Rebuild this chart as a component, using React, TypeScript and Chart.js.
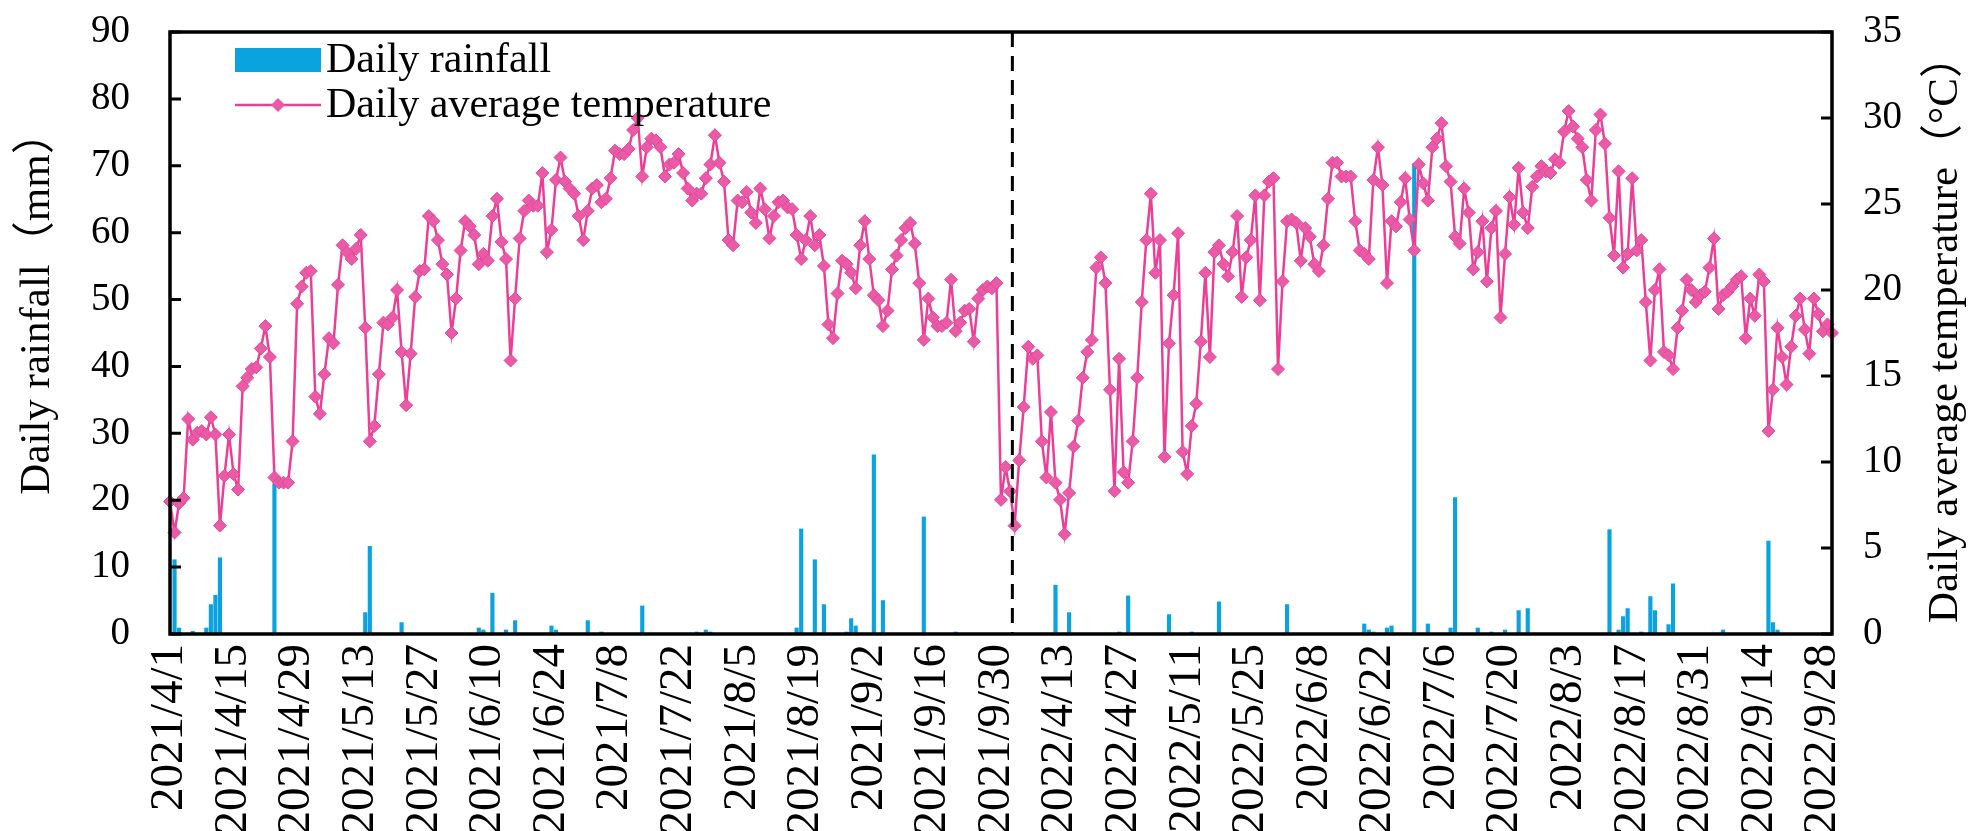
import { useEffect, useRef } from 'react';
import Chart from 'chart.js/auto';

const FONT = "'Liberation Serif', 'Times New Roman', 'Noto Sans CJK SC', serif";

// 2021 season 4/1-9/30, 2022 season 3/31-9/30
const season2021: [string, string] = ['2021-04-01', '2021-09-30'];
const season2022: [string, string] = ['2022-03-31', '2022-09-30'];

const tickLabels = [
  '2021/4/1', '2021/4/15', '2021/4/29', '2021/5/13', '2021/5/27', '2021/6/10', '2021/6/24',
  '2021/7/8', '2021/7/22', '2021/8/5', '2021/8/19', '2021/9/2', '2021/9/16', '2021/9/30',
  '2022/4/13', '2022/4/27', '2022/5/11', '2022/5/25', '2022/6/8', '2022/6/22', '2022/7/6',
  '2022/7/20', '2022/8/3', '2022/8/17', '2022/8/31', '2022/9/14', '2022/9/28',
];

// daily average temperature, °C
const temp2021 = [
  7.7, 5.9, 7.6, 7.9, 12.5, 11.3, 11.7, 11.8, 11.6, 12.6,
  11.6, 6.3, 9.2, 11.6, 9.3, 8.4, 14.4, 14.9, 15.4, 15.5,
  16.6, 17.9, 16.1, 9.1, 8.8, 8.8, 8.8, 11.2, 19.2, 20.2,
  21.0, 21.1, 13.8, 12.8, 15.1, 17.2, 16.9, 20.3, 22.6, 22.2,
  21.8, 22.4, 23.2, 17.8, 11.2, 12.1, 15.1, 18.1, 18.0, 18.4,
  20.0, 16.4, 13.3, 16.3, 19.6, 21.1, 21.2, 24.3, 24.0, 22.9,
  21.5, 20.9, 17.5, 19.5, 22.3, 24.0, 23.7, 23.2, 21.5, 22.1,
  21.7, 24.3, 25.3, 22.8, 21.8, 15.9, 19.5, 23.0, 24.6, 25.2,
  24.9, 24.9, 26.8, 22.2, 23.5, 26.4, 27.7, 26.3, 25.9, 25.6,
  24.3, 22.9, 24.6, 25.9, 26.1, 25.1, 25.3, 26.5, 28.1, 27.9,
  27.9, 28.2, 29.3, 30.0, 26.6, 28.3, 28.8, 28.7, 28.3, 26.6,
  27.3, 27.4, 27.9, 26.8, 25.9, 25.2, 25.6, 25.6, 26.5, 27.3,
  29.0, 27.4, 26.3, 22.9, 22.6, 25.2, 25.1, 25.7, 24.5, 23.9,
  25.9, 24.7, 23.0, 24.3, 25.1, 25.2, 24.8, 24.7, 23.2, 21.8,
  22.9, 24.3, 22.6, 23.2, 21.4, 18.0, 17.2, 19.8, 21.7, 21.5,
  21.0, 20.1, 22.6, 24.0, 21.8, 19.7, 19.4, 17.9, 18.8, 21.2,
  22.0, 22.9, 23.6, 23.9, 22.7, 20.4, 17.1, 19.5, 18.4, 17.9,
  17.9, 18.1, 20.6, 17.6, 18.1, 18.8, 18.9, 17.0, 19.5, 20.0,
  20.2, 20.1, 20.4,
];

const temp2022 = [
  7.8, 9.7, 8.3, 6.3, 10.1, 13.2, 16.7, 16.0, 16.2, 11.2,
  9.1, 12.9, 8.8, 7.8, 5.8, 8.2, 10.9, 12.4, 14.9, 16.4,
  17.1, 21.3, 21.9, 20.4, 14.2, 8.3, 16.0, 9.4, 8.8, 11.2,
  14.9, 19.3, 22.9, 25.6, 21.0, 22.9, 10.3, 16.9, 19.7, 23.3,
  10.6, 9.3, 12.1, 13.4, 17.0, 21.0, 16.1, 22.2, 22.6, 21.5,
  20.8, 22.2, 24.3, 19.6, 21.9, 22.9, 25.5, 19.4, 25.5, 26.3,
  26.5, 15.4, 20.5, 24.0, 24.1, 23.9, 21.7, 23.6, 23.1, 21.5,
  21.1, 22.6, 25.3, 27.4, 27.4, 26.6, 26.6, 26.6, 24.0, 22.3,
  22.1, 21.8, 26.4, 28.3, 26.1, 20.4, 24.0, 23.7, 25.1, 26.5,
  24.1, 22.3, 27.3, 26.2, 25.2, 28.3, 28.8, 29.7, 27.2, 26.3,
  23.1, 22.7, 25.9, 24.5, 21.2, 22.2, 24.0, 20.5, 23.6, 24.6,
  18.4, 22.1, 25.4, 23.8, 27.1, 24.5, 23.6, 26.0, 26.6, 27.2,
  26.9, 26.8, 27.6, 27.4, 29.2, 30.4, 29.5, 28.8, 28.3, 26.4,
  25.2, 29.3, 30.2, 28.5, 24.2, 22.0, 26.9, 21.3, 22.1, 26.5,
  22.3, 22.9, 19.3, 15.9, 20.0, 21.2, 16.4, 16.2, 15.4, 17.8,
  18.8, 20.6, 20.0, 19.3, 19.7, 19.9, 21.3, 23.0, 18.9, 19.7,
  19.9, 20.2, 20.6, 20.8, 17.2, 19.5, 18.5, 20.9, 20.5, 11.8,
  14.2, 17.8, 16.1, 14.5, 16.7, 18.5, 19.5, 17.7, 16.3, 19.5,
  18.6, 17.6, 18.0, 17.5,
];

// rainy days only, mm; every other day is 0
const rain2021: [string, number][] = [
  ['2021/4/2', 11.1], ['2021/4/3', 0.9], ['2021/4/6', 0.4], ['2021/4/9', 0.9],
  ['2021/4/10', 4.4], ['2021/4/11', 5.8], ['2021/4/12', 11.4], ['2021/4/24', 22.4],
  ['2021/5/14', 3.2], ['2021/5/15', 13.1], ['2021/5/22', 1.7], ['2021/6/8', 0.9],
  ['2021/6/9', 0.6], ['2021/6/11', 6.1], ['2021/6/14', 0.6], ['2021/6/16', 2.0],
  ['2021/6/24', 1.2], ['2021/6/25', 0.6], ['2021/7/2', 2.0], ['2021/7/5', 0.3],
  ['2021/7/14', 4.2], ['2021/7/26', 0.3], ['2021/7/28', 0.6], ['2021/7/29', 0.3],
  ['2021/8/17', 0.9], ['2021/8/18', 15.7], ['2021/8/21', 11.1], ['2021/8/23', 4.4],
  ['2021/8/28', 0.3], ['2021/8/29', 2.3], ['2021/8/30', 1.2], ['2021/9/3', 26.8],
  ['2021/9/5', 5.0], ['2021/9/14', 17.5], ['2021/9/21', 0.3],
];

const rain2022: [string, number][] = [
  ['2022/4/12', 7.3], ['2022/4/15', 3.2], ['2022/4/26', 0.3], ['2022/4/28', 5.7],
  ['2022/5/7', 2.9], ['2022/5/12', 0.3], ['2022/5/18', 4.8], ['2022/6/2', 4.4],
  ['2022/6/19', 1.5], ['2022/6/20', 0.6], ['2022/6/21', 0.3], ['2022/6/24', 0.9],
  ['2022/6/25', 1.2], ['2022/6/30', 70.3], ['2022/7/3', 1.5], ['2022/7/8', 0.9],
  ['2022/7/9', 20.4], ['2022/7/14', 0.9], ['2022/7/17', 0.3], ['2022/7/20', 0.6],
  ['2022/7/23', 3.5], ['2022/7/25', 3.8], ['2022/8/12', 15.6], ['2022/8/14', 0.6],
  ['2022/8/15', 2.6], ['2022/8/16', 3.8], ['2022/8/19', 0.3], ['2022/8/21', 5.6],
  ['2022/8/22', 3.5], ['2022/8/25', 1.4], ['2022/8/26', 7.5], ['2022/9/6', 0.6],
  ['2022/9/16', 13.9], ['2022/9/17', 1.7], ['2022/9/18', 0.6],
];

const dividerAfter = '2022/4/2';

function dayRange([from, to]: [string, string]) {
  const out: string[] = [];
  const d = new Date(from + 'T00:00:00Z');
  const end = new Date(to + 'T00:00:00Z');
  while (d <= end) {
    out.push(`${d.getUTCFullYear()}/${d.getUTCMonth() + 1}/${d.getUTCDate()}`);
    d.setUTCDate(d.getUTCDate() + 1);
  }
  return out;
}

const days = [...dayRange(season2021), ...dayRange(season2022)];
const temperature = [...temp2021, ...temp2022];
const rainMap = new Map([...rain2021, ...rain2022]);
const rainfall = days.map(d => rainMap.get(d) ?? 0);
const tickSet = new Set(tickLabels);

const BLUE = '#0ba3df';
const PINK = '#ee3d95';
const PINK_FILL = '#ea5aa6';

const decorations = {
  id: 'decorations',
  afterDatasetsDraw(chart: any) {
    const { ctx, chartArea: a, scales } = chart;
    ctx.save();

    // dashed line between the two seasons
    const k = days.indexOf(dividerAfter);
    const dx = (scales.x.getPixelForValue(k) + scales.x.getPixelForValue(k + 1)) / 2;
    ctx.strokeStyle = '#000';
    ctx.lineWidth = 3;
    ctx.setLineDash([15, 9]);
    ctx.beginPath();
    ctx.moveTo(dx, a.top);
    ctx.lineTo(dx, a.bottom);
    ctx.stroke();
    ctx.setLineDash([]);

    // frame
    ctx.lineWidth = 3.5;
    ctx.strokeRect(a.left, a.top, a.right - a.left, a.bottom - a.top);

    // inward tick marks
    ctx.lineWidth = 3;
    ctx.beginPath();
    for (const t of scales.y.ticks) {
      const py = scales.y.getPixelForValue(t.value);
      ctx.moveTo(a.left, py);
      ctx.lineTo(a.left + 11, py);
    }
    for (const t of scales.y1.ticks) {
      const py = scales.y1.getPixelForValue(t.value);
      ctx.moveTo(a.right, py);
      ctx.lineTo(a.right - 11, py);
    }
    ctx.stroke();

    // legend
    ctx.fillStyle = BLUE;
    ctx.fillRect(235, 48, 86, 24);
    ctx.strokeStyle = PINK;
    ctx.lineWidth = 2.5;
    ctx.beginPath();
    ctx.moveTo(235, 105);
    ctx.lineTo(321, 105);
    ctx.stroke();
    ctx.fillStyle = PINK_FILL;
    ctx.beginPath();
    ctx.moveTo(278, 98);
    ctx.lineTo(285, 105);
    ctx.lineTo(278, 112);
    ctx.lineTo(271, 105);
    ctx.closePath();
    ctx.fill();
    ctx.fillStyle = '#000';
    ctx.font = `42px ${FONT}`;
    ctx.textAlign = 'left';
    ctx.textBaseline = 'middle';
    ctx.fillText('Daily rainfall', 326, 61);
    ctx.fillText('Daily average temperature', 326, 106);

    // axis titles, both reading bottom to top
    ctx.textAlign = 'center';
    ctx.font = `43px ${FONT}`;
    ctx.save();
    ctx.translate(38, 303);
    ctx.rotate(-Math.PI / 2);
    ctx.fillText('Daily rainfall（mm）', 0, 0);
    ctx.restore();
    ctx.translate(1946, (a.top + a.bottom) / 2 - 4);
    ctx.rotate(-Math.PI / 2);
    ctx.fillText('Daily average temperature（°C）', 0, 0);
    ctx.restore();
  },
};

export default function App() {
  const canvasRef = useRef<HTMLCanvasElement>(null);
  const chartRef = useRef<Chart | null>(null);

  useEffect(() => {
    if (!canvasRef.current) return;
    if (chartRef.current) chartRef.current.destroy();

    const tickFont = { family: FONT, size: 39 };

    chartRef.current = new Chart(canvasRef.current, {
      type: 'bar',
      data: {
        labels: days,
        datasets: [
          {
            type: 'line',
            label: 'Daily average temperature',
            data: temperature,
            yAxisID: 'y1',
            borderColor: PINK,
            borderWidth: 2.5,
            pointStyle: 'rectRot',
            pointRadius: 6.5,
            pointBackgroundColor: PINK_FILL,
            pointBorderColor: '#e0489a',
            pointBorderWidth: 1,
            tension: 0,
            order: 0,
          } as any,
          {
            type: 'bar',
            label: 'Daily rainfall',
            data: rainfall,
            yAxisID: 'y',
            backgroundColor: BLUE,
            barThickness: 3.5,
            order: 1,
          },
        ],
      },
      options: {
        animation: false,
        responsive: false,
        devicePixelRatio: 1,
        layout: { padding: { top: 32, left: 0, right: 0, bottom: 0 } },
        plugins: { legend: { display: false }, tooltip: { enabled: false } },
        scales: {
          x: {
            type: 'category',
            offset: false,
            grid: { display: false, drawTicks: false },
            border: { display: false },
            ticks: {
              autoSkip: false,
              minRotation: 90,
              maxRotation: 90,
              padding: 10,
              color: '#000',
              font: { family: FONT, size: 47 },
              callback: (_v: any, i: number) => (tickSet.has(days[i]) ? days[i] : ''),
            },
            afterFit: (s: any) => {
              s.height = 197;
              s.paddingLeft = 0;
              s.paddingRight = 0;
            },
          },
          y: {
            position: 'left',
            min: 0,
            max: 90,
            grid: { display: false, drawTicks: false },
            border: { display: false },
            ticks: { stepSize: 10, padding: 40, color: '#000', font: tickFont },
            afterFit: (s: any) => {
              s.width = 170;
              s.paddingTop = 0;
              s.paddingBottom = 0;
            },
          },
          y1: {
            position: 'right',
            min: 0,
            max: 35,
            grid: { display: false, drawTicks: false },
            border: { display: false },
            ticks: { stepSize: 5, padding: 31, color: '#000', font: tickFont },
            afterFit: (s: any) => {
              s.width = 146;
              s.paddingTop = 0;
              s.paddingBottom = 0;
            },
          },
        },
      },
      plugins: [decorations],
    });

    return () => {
      if (chartRef.current) {
        chartRef.current.destroy();
        chartRef.current = null;
      }
    };
  }, []);

  return (
    <div style={{ position: 'fixed', left: 0, top: 0, width: 1978, height: 831, background: '#fff' }}>
      <canvas ref={canvasRef} width={1978} height={831} style={{ display: 'block' }} />
    </div>
  );
}
